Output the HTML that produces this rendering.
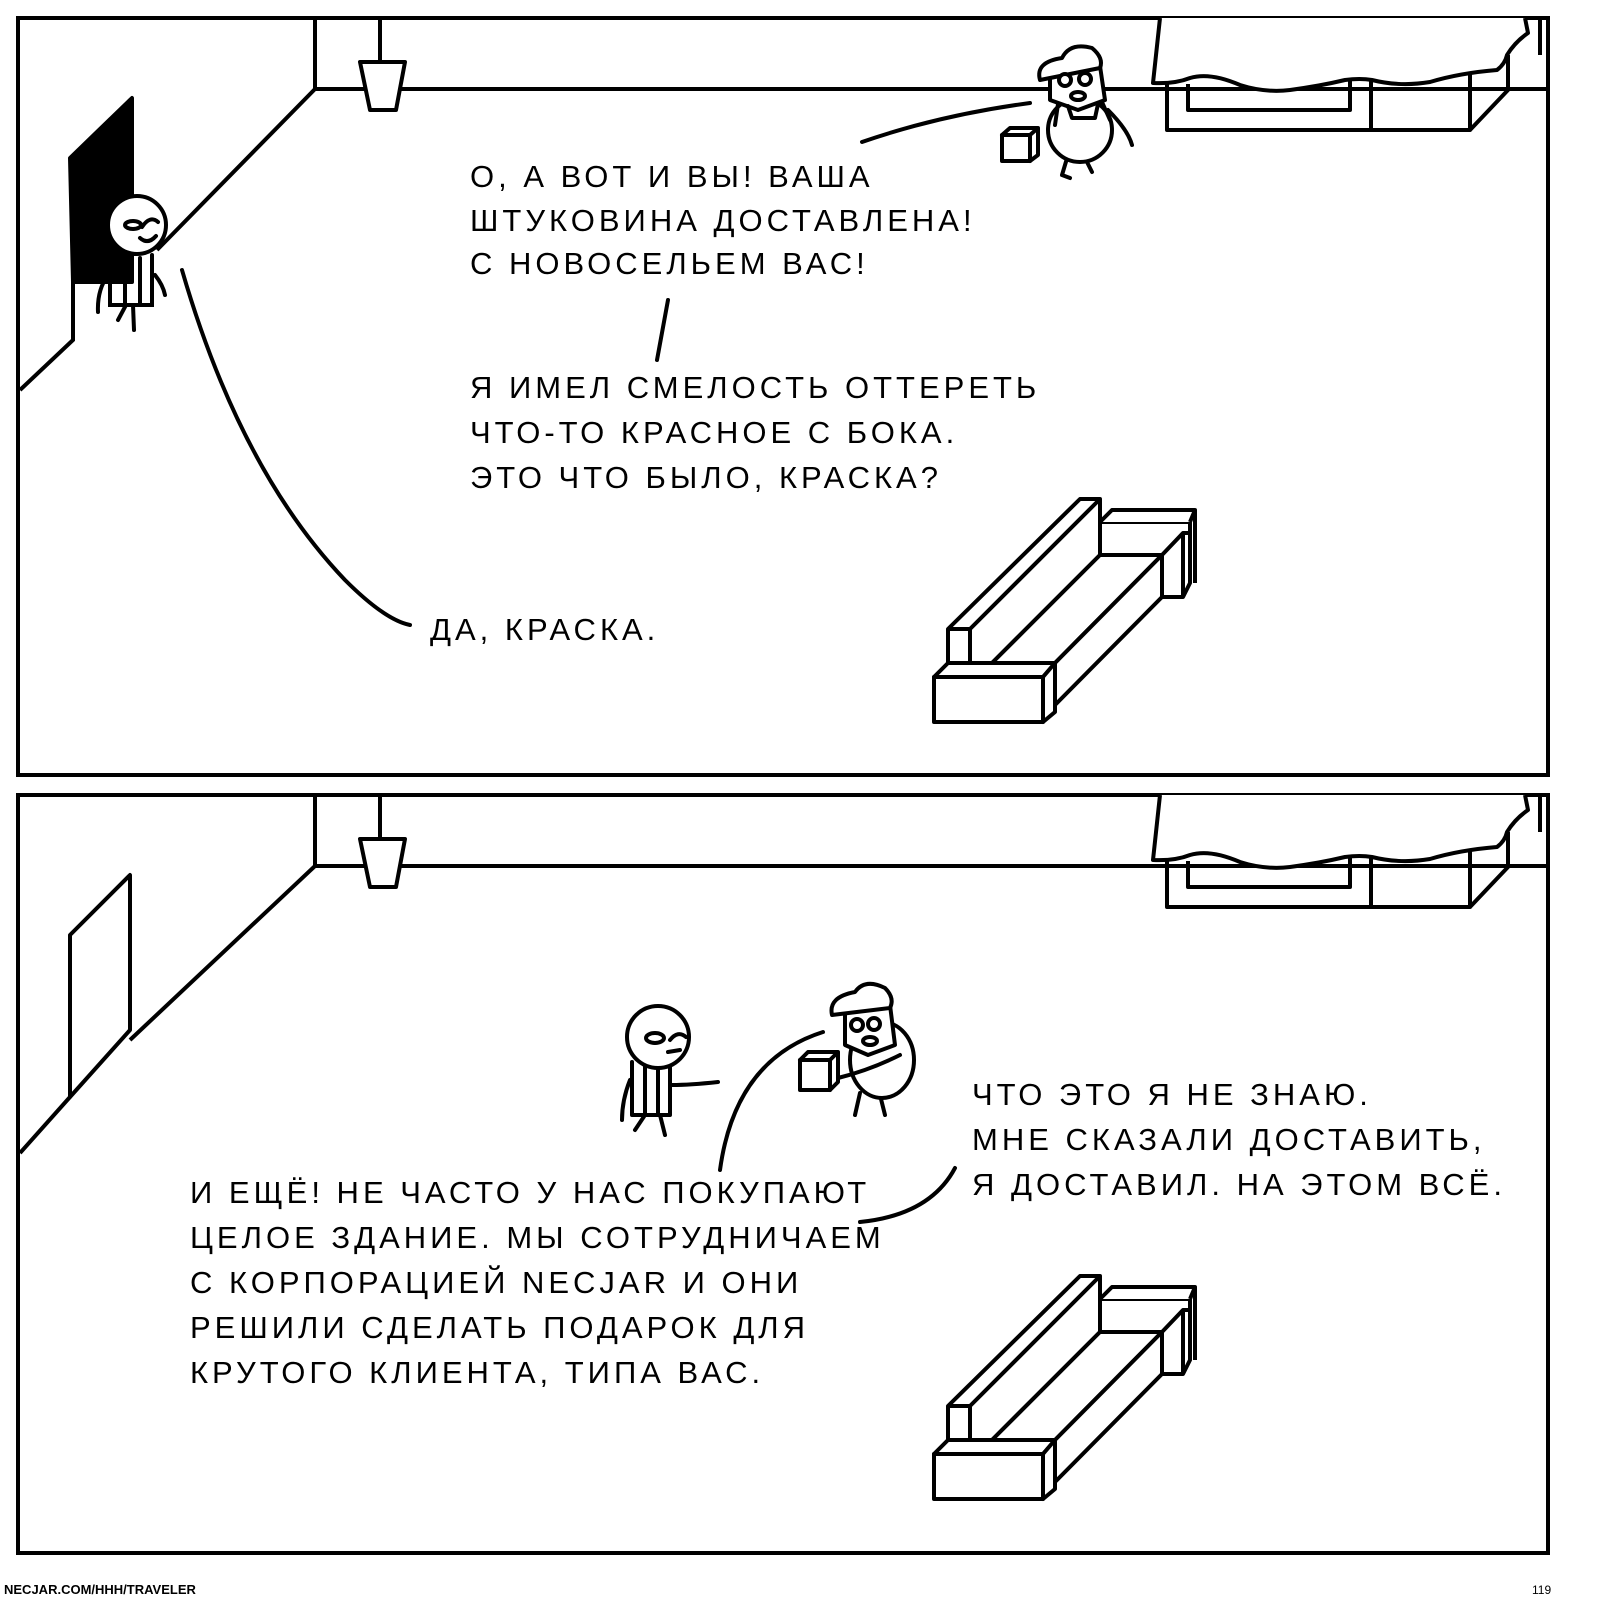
<!DOCTYPE html>
<html><head><meta charset="utf-8"><style>
html,body{margin:0;padding:0;background:#fff;width:1600px;height:1600px;overflow:hidden}
svg{display:block}
text{font-family:"Liberation Sans","DejaVu Sans",sans-serif;font-size:31px;letter-spacing:4px;fill:#000}
</style></head><body>
<svg width="1600" height="1600" viewBox="0 0 1600 1600" xmlns="http://www.w3.org/2000/svg">
<defs>
<g id="room" fill="none" stroke="#000" stroke-width="4" stroke-linejoin="round">
  <path d="M315 18 V89 H1548"/>
  <path d="M380 18 V62"/>
  <path d="M360 62 H405 L396 110 H370 Z" fill="#fff"/>
  <!-- window -->
  <path d="M1167 84 V130 H1470 V70 M1188 84 V110 H1350 V80 M1371 80 V130 M1470 130 L1508 90 V55"/>
  <path d="M1160 18 L1153 83 Q1175 84 1190 78 Q1210 72 1240 85 Q1265 93 1290 90 Q1320 86 1345 80 Q1360 78 1372 80 Q1400 87 1430 82 Q1460 73 1497 70 Q1505 64 1507 55 Q1515 42 1528 33 L1525 18" fill="#fff"/>
  <path d="M1540 18 V55"/>
  <!-- couch -->
  <g fill="#fff">
  <path d="M1100 522 H1190 V583 L1183 597 H1162 V555 H1100 Z"/>
  <path d="M1162 555 L1183 533 H1190 M1183 533 V597 M1100 522 L1112 510 H1195 L1190 522 M1195 510 V583"/>
  <path d="M948 663 V629 L1080 499 H1100 V555 L992 663 Z"/>
  <path d="M970 629 H948 M970 629 V663 M970 629 L1100 499"/>
  <path d="M992 663 L1100 555 H1162 L1055 663 Z"/>
  <path d="M1055 663 L1162 555 V597 L1055 705 Z"/>
  <path d="M934 677 L948 663 H1055 L1043 677 Z"/>
  <path d="M934 677 H1043 V722 H934 Z"/>
  <path d="M1043 677 L1055 663 V712 L1043 722 Z"/>
  </g>
</g>
</defs>

<!-- Panel 1 -->
<rect x="18" y="18" width="1530" height="757" fill="none" stroke="#000" stroke-width="4"/>
<use href="#room"/>
<path d="M315 89 L157 250" stroke="#000" stroke-width="4"/>
<path d="M70 158 L132 98 V282 H73 Z" fill="#000" stroke="#000" stroke-width="4" stroke-linejoin="round"/>
<path d="M73 282 V340 L20 390" fill="none" stroke="#000" stroke-width="4"/>
<g fill="#fff" stroke="#000" stroke-width="4" stroke-linecap="round">
<path d="M110 255 V305 H152 V255 M125 258 V305 M140 258 V305 M108 275 Q97 290 98 312 M155 275 Q163 285 165 295 M126 305 L118 320 M133 305 L134 330" fill="none"/>
<circle cx="137" cy="225" r="29"/>
<ellipse cx="133" cy="225" rx="8" ry="4"/><path d="M142 227 Q150 215 158 222"/>
<path d="M140 238 Q148 245 156 236"/>
</g>
<!-- delivery guy 1 -->
<g fill="#fff" stroke="#000" stroke-width="4" stroke-linecap="round" stroke-linejoin="round">
<path d="M1068 155 L1062 175 L1070 178 M1085 158 L1092 172 M1108 110 Q1128 130 1132 145" fill="none"/>
<ellipse cx="1080" cy="130" rx="32" ry="32"/>
<path d="M1050 72 L1100 66 L1105 100 L1078 110 L1050 100 Z"/>
<path d="M1040 80 Q1035 62 1062 58 Q1070 42 1092 48 Q1104 58 1100 68 Z"/>
<circle cx="1065" cy="80" r="6"/><circle cx="1085" cy="79" r="6"/>
<ellipse cx="1078" cy="96" rx="7" ry="4"/>
<path d="M1068 106 L1072 118 H1095 L1098 104 M1058 104 L1055 125 M1102 102 L1110 120" fill="none"/>
<rect x="1002" y="135" width="28" height="26"/>
<path d="M1002 135 L1010 128 H1038 L1030 135 M1038 128 V155 L1030 161" fill="none"/>
</g>
<g fill="none" stroke="#000" stroke-width="4" stroke-linecap="round">
<path d="M862 142 Q940 115 1030 103"/>
<path d="M668 300 L657 360"/>
<path d="M182 270 Q240 470 345 580 Q385 620 410 625"/>
</g>
<text x="470" y="187">О, А ВОТ И ВЫ! ВАША</text>
<text x="470" y="231">ШТУКОВИНА ДОСТАВЛЕНА!</text>
<text x="470" y="274">С НОВОСЕЛЬЕМ ВАС!</text>
<text x="470" y="398">Я ИМЕЛ СМЕЛОСТЬ ОТТЕРЕТЬ</text>
<text x="470" y="443">ЧТО-ТО КРАСНОЕ С БОКА.</text>
<text x="470" y="488">ЭТО ЧТО БЫЛО, КРАСКА?</text>
<text x="430" y="640">ДА, КРАСКА.</text>

<!-- Panel 2 -->
<rect x="18" y="795" width="1530" height="758" fill="none" stroke="#000" stroke-width="4"/>
<g transform="translate(0,777)"><use href="#room"/></g>
<path d="M315 866 L130 1040" stroke="#000" stroke-width="4"/>
<path d="M70 1097 V935 L130 875 V1030 Z" fill="#fff" stroke="#000" stroke-width="4" stroke-linejoin="round"/>
<path d="M70 1097 L20 1153" fill="none" stroke="#000" stroke-width="4"/>
<g fill="#fff" stroke="#000" stroke-width="4" stroke-linecap="round" stroke-linejoin="round">
<path d="M632 1062 V1115 H670 V1062 M645 1065 V1115 M658 1065 V1115 M630 1080 Q622 1100 622 1120 M672 1085 Q690 1085 718 1082 M645 1115 L635 1130 M660 1115 L665 1135" fill="none"/>
<circle cx="658" cy="1037" r="31"/>
<ellipse cx="655" cy="1038" rx="9" ry="5"/><path d="M670 1040 Q678 1030 686 1037"/>
<path d="M668 1052 L680 1050"/>
<path d="M860 1093 L855 1115 M880 1095 L885 1115" fill="none"/>
<ellipse cx="882" cy="1060" rx="32" ry="38"/>
<path d="M845 1010 L890 1005 L895 1045 L868 1055 L845 1045 Z"/>
<path d="M832 1015 Q828 997 855 992 Q865 978 885 988 Q895 998 890 1008 Z"/>
<circle cx="857" cy="1025" r="6"/><circle cx="874" cy="1024" r="6"/>
<ellipse cx="870" cy="1041" rx="7" ry="4"/>
<rect x="800" y="1060" width="30" height="30"/>
<path d="M800 1060 L808 1052 H838 L830 1060 M838 1052 V1082 L830 1090" fill="none"/>
<path d="M838 1078 Q870 1070 900 1055" fill="none"/>
</g>
<g fill="none" stroke="#000" stroke-width="4" stroke-linecap="round">
<path d="M720 1170 Q735 1060 823 1032"/>
<path d="M860 1222 Q930 1215 955 1168"/>
</g>
<text x="190" y="1203">И ЕЩЁ! НЕ ЧАСТО У НАС ПОКУПАЮТ</text>
<text x="190" y="1248">ЦЕЛОЕ ЗДАНИЕ. МЫ СОТРУДНИЧАЕМ</text>
<text x="190" y="1293">С КОРПОРАЦИЕЙ NECJAR И ОНИ</text>
<text x="190" y="1338">РЕШИЛИ СДЕЛАТЬ ПОДАРОК ДЛЯ</text>
<text x="190" y="1383">КРУТОГО КЛИЕНТА, ТИПА ВАС.</text>
<text x="972" y="1105">ЧТО ЭТО Я НЕ ЗНАЮ.</text>
<text x="972" y="1150">МНЕ СКАЗАЛИ ДОСТАВИТЬ,</text>
<text x="972" y="1195">Я ДОСТАВИЛ. НА ЭТОМ ВСЁ.</text>

<text x="4" y="1594" style="font-size:13px;letter-spacing:0;font-weight:bold">NECJAR.COM/HHH/TRAVELER</text>
<text x="1532" y="1594" style="font-size:12px;letter-spacing:0">119</text>
</svg>
</body></html>
